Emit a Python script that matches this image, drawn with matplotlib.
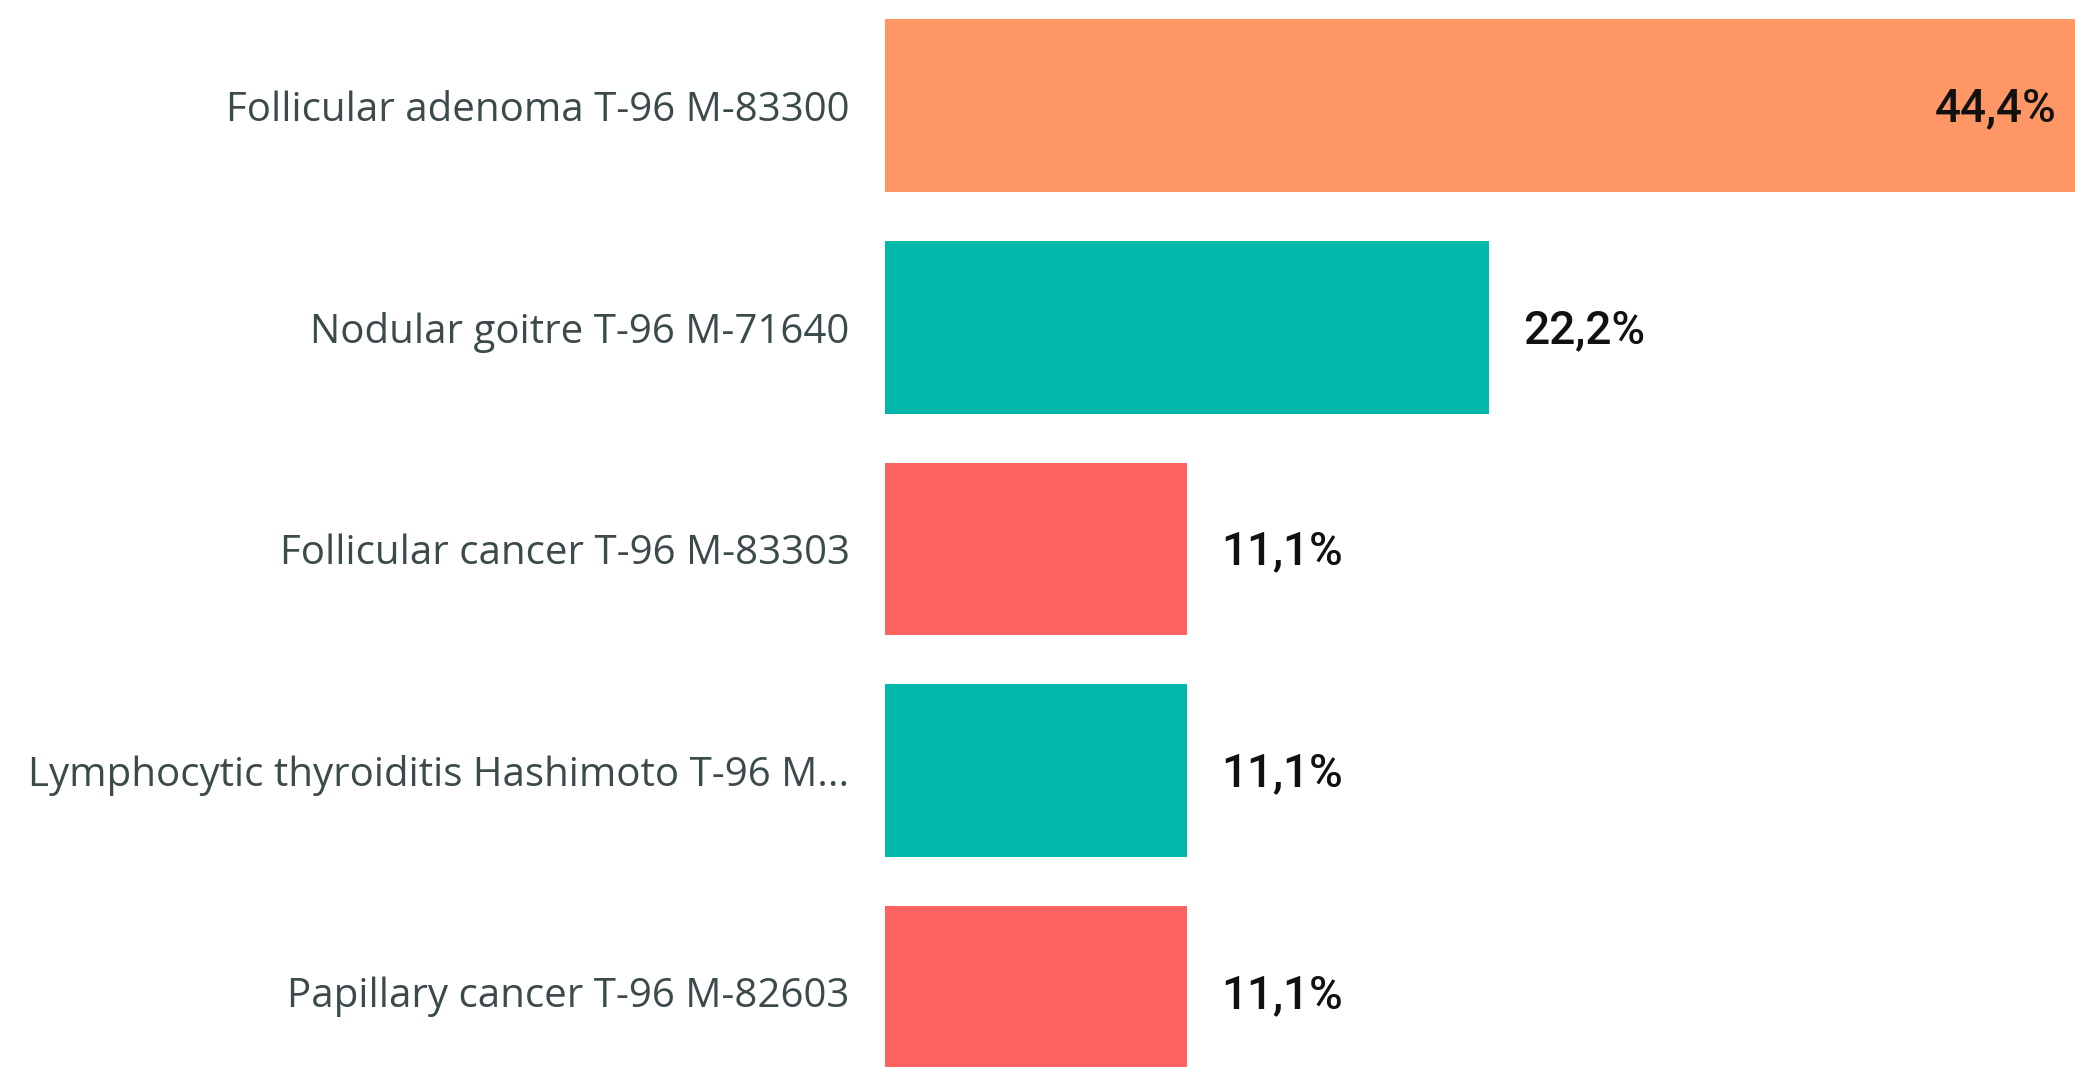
import matplotlib.pyplot as plt

CATEGORIES = [
    "Follicular adenoma T-96 M-83300",
    "Nodular goitre T-96 M-71640",
    "Follicular cancer T-96 M-83303",
    "Lymphocytic thyroiditis Hashimoto T-96 M...",
    "Papillary cancer T-96 M-82603",
]
VALUES = [44.4, 22.2, 11.1, 11.1, 11.1]
VALUE_LABELS = ["44,4%", "22,2%", "11,1%", "11,1%", "11,1%"]
COLORS = ["#FE9666", "#01B8AA", "#FD625E", "#01B8AA", "#FD625E"]

W, H = 2075, 1067
LEFT_PX = 885

fig = plt.figure(figsize=(W / 100, H / 100), dpi=100)
ax = fig.add_axes([LEFT_PX / W, 0, 1 - LEFT_PX / W, 1])

y = list(range(len(CATEGORIES)))
ax.barh(y, VALUES, height=0.779, color=COLORS)

XMAX = 43.74
ax.set_xlim(0, XMAX)
ax.set_ylim(4.3387, -0.4773)

ax.set_yticks(y)
ax.set_yticklabels(CATEGORIES, fontsize=29, color="#3B4A4B", family="Open Sans")
ax.tick_params(axis="y", length=0, pad=25.5)
ax.set_xticks([])
for s in ax.spines.values():
    s.set_visible(False)

lab_kw = dict(textcoords="offset points", va="center", fontsize=33,
              family="Roboto", fontweight="medium", color="#111111")
for yi, v, lab in zip(y, VALUES, VALUE_LABELS):
    if v > XMAX * 0.9:
        ax.annotate(lab, (XMAX, yi), xytext=(-13, -2), ha="right", **lab_kw)
    else:
        ax.annotate(lab, (v, yi), xytext=(24.5, -2), ha="left", **lab_kw)

fig.savefig("out.png", dpi=100)
